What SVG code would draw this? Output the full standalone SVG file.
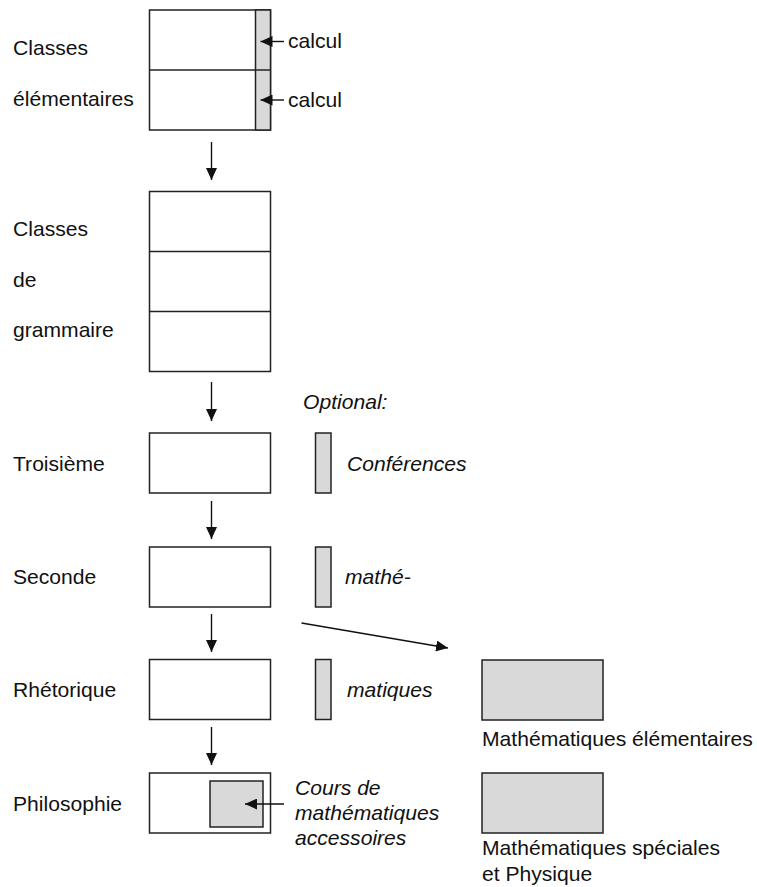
<svg xmlns="http://www.w3.org/2000/svg" width="757" height="887" viewBox="0 0 757 887">
<style>
.box{fill:#fff;stroke:#222;stroke-width:1.5}
.g{fill:#d9d9d9;stroke:#222;stroke-width:1.5}
.ln{stroke:#222;stroke-width:1.5;fill:none}
.t{font-family:"Liberation Sans",Arial,sans-serif;font-size:21.1px;fill:#111}
.i{font-style:italic}
.c{stroke:#111;stroke-width:1.4;fill:none;marker-end:url(#ah)}
</style>
<defs>
<marker id="ah" viewBox="0 0 12 11" refX="12" refY="5.5" markerWidth="12" markerHeight="11" markerUnits="userSpaceOnUse" orient="auto">
<path d="M0,0 L12,5.5 L0,11 Z" fill="#111"/>
</marker>
</defs>
<rect width="757" height="887" fill="#fff"/>

<g id="elementaires">
<rect class="box" x="149.5" y="10" width="121" height="120"/>
<rect class="g" x="255.5" y="10" width="15" height="120"/>
<line class="ln" x1="149.5" y1="70" x2="270.5" y2="70"/>
<text class="t" x="13" y="55">Classes</text>
<text class="t" x="13" y="106">élémentaires</text>
<text class="t" x="288" y="48">calcul</text>
<text class="t" x="288" y="107">calcul</text>
</g>

<g id="grammaire">
<rect class="box" x="149.5" y="191.5" width="121" height="180"/>
<line class="ln" x1="149.5" y1="251.5" x2="270.5" y2="251.5"/>
<line class="ln" x1="149.5" y1="311.5" x2="270.5" y2="311.5"/>
<text class="t" x="13" y="236">Classes</text>
<text class="t" x="13" y="287">de</text>
<text class="t" x="13" y="337">grammaire</text>
</g>

<g id="troisieme">
<rect class="box" x="149.5" y="433" width="121" height="60"/>
<text class="t" x="13" y="471">Troisième</text>
</g>
<g id="seconde">
<rect class="box" x="149.5" y="547" width="121" height="60"/>
<text class="t" x="13" y="584">Seconde</text>
</g>
<g id="rhetorique">
<rect class="box" x="149.5" y="659.5" width="121" height="60"/>
<text class="t" x="13" y="697">Rhétorique</text>
</g>
<g id="philosophie">
<rect class="box" x="149.5" y="773" width="121" height="60"/>
<rect class="g" x="210" y="781" width="53" height="46"/>
<text class="t" x="13" y="811">Philosophie</text>
<text class="t i" x="295" y="795">Cours de</text>
<text class="t i" x="295" y="820">mathématiques</text>
<text class="t i" x="295" y="845">accessoires</text>
</g>

<g id="conferences">
<text class="t i" x="303" y="409">Optional:</text>
<rect class="g" x="315.5" y="433" width="15.5" height="60"/>
<rect class="g" x="315.5" y="547" width="15.5" height="60"/>
<rect class="g" x="315.5" y="659.5" width="15.5" height="60"/>
<text class="t i" x="347" y="471">Conférences</text>
<text class="t i" x="345" y="584">mathé-</text>
<text class="t i" x="347" y="697">matiques</text>
</g>

<g id="math-elem">
<rect class="g" x="482" y="660" width="121" height="60"/>
<text class="t" x="482" y="746">Mathématiques élémentaires</text>
</g>
<g id="math-spec">
<rect class="g" x="482" y="773" width="121" height="60"/>
<text class="t" x="482" y="855">Mathématiques spéciales</text>
<text class="t" x="482" y="881">et Physique</text>
</g>

<g id="connectors">
<line class="c" x1="284" y1="41.5" x2="260.5" y2="41.5"/>
<line class="c" x1="284" y1="100" x2="260.5" y2="100"/>
<line class="c" x1="211.5" y1="142" x2="211.5" y2="180"/>
<line class="c" x1="211.5" y1="382" x2="211.5" y2="421"/>
<line class="c" x1="211.5" y1="501" x2="211.5" y2="539"/>
<line class="c" x1="211.5" y1="614" x2="211.5" y2="652"/>
<line class="c" x1="211.5" y1="727" x2="211.5" y2="765"/>
<line class="c" x1="284" y1="804" x2="245" y2="804"/>
<line class="c" x1="301.5" y1="623" x2="448" y2="648"/>
</g>
</svg>
